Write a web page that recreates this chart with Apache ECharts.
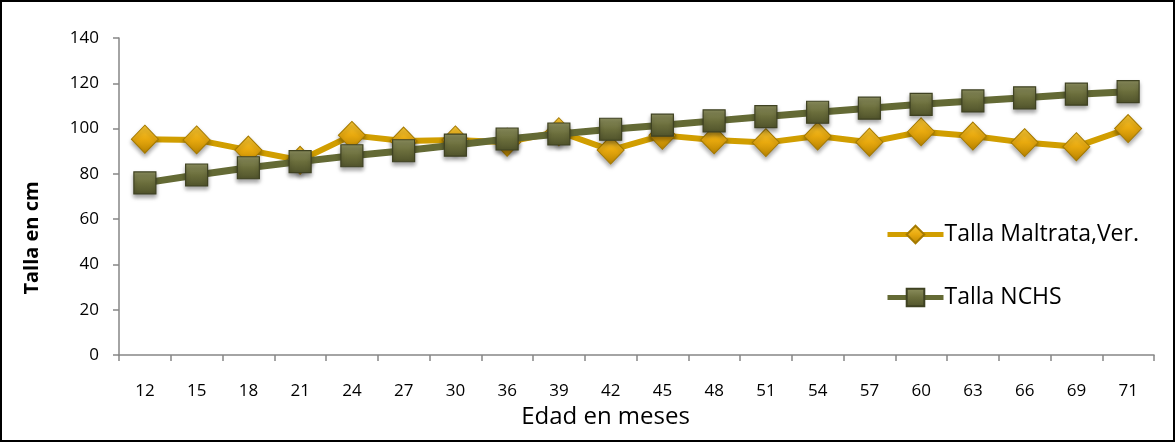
<!DOCTYPE html>
<html><head><meta charset="utf-8">
<script src="https://cdn.jsdelivr.net/npm/echarts@6/dist/echarts.min.js"></script>
<style>
html,body{margin:0;padding:0;background:#fff;}
#wrap{position:absolute;left:0;top:0;width:1171px;height:438px;border:2px solid #000;}
#c{width:1171px;height:438px;}
</style></head>
<body><div id="wrap"><div id="c"></div></div>
<script>
const categories = ['12','15','18','21','24','27','30','36','39','42','45','48','51','54','57','60','63','66','69','71'];
const maltrata = [95.3, 95, 90.5, 86, 97, 94.5, 95, 94, 98.6, 90.5, 97, 95, 93.8, 96.7, 94, 98.6, 96.7, 93.8, 92, 100];
const nchs = [76, 79.5, 82.7, 85.4, 88, 90.2, 92.7, 95.4, 97.6, 99.7, 101.5, 103.4, 105.3, 107.2, 109, 110.7, 112.2, 113.6, 115.2, 116.3];
const yTicks = {min: 0, max: 140, interval: 20};

const font = '"Open Sans", "Liberation Sans", sans-serif';
const chart = echarts.init(document.getElementById('c'));
const goldGrad = new echarts.graphic.LinearGradient(0,0,0,1,[{offset:0,color:'#F8C837'},{offset:0.5,color:'#E8A90E'},{offset:1,color:'#B88300'}]);
const oliveGrad = new echarts.graphic.LinearGradient(0,0,0,1,[{offset:0,color:'#8E9160'},{offset:0.5,color:'#6B6E3C'},{offset:1,color:'#50532B'}]);
chart.setOption({
  animation:false,
  grid:{left:117, right:19, top:36, bottom:85},
  legend:{
    orient:'vertical', left:878, top:216, itemGap:40, itemWidth:56, itemHeight:22,
    lineStyle:{width:5},
    textStyle:{fontFamily:font, fontSize:23, color:'#000', padding:[0,0,0,-4]},
    data:['Talla Maltrata,Ver.','Talla NCHS']
  },
  graphic:[{
    type:'text', x:30, y:236, rotation:Math.PI/2,
    style:{text:'Talla en cm', fontFamily:font, fontSize:20, fontWeight:'bold', fill:'#000', align:'center', verticalAlign:'middle'}
  }],
  xAxis:{
    type:'category', data:categories, boundaryGap:true,
    name:'Edad en meses', nameLocation:'middle', nameGap:46,
    nameTextStyle:{fontFamily:font, fontSize:24, color:'#000', padding:[0,62,0,0]},
    axisLine:{lineStyle:{color:'#868686', width:1.5}},
    axisTick:{show:true, length:6, interval:0, lineStyle:{color:'#868686', width:1.5}},
    axisLabel:{fontFamily:font, fontSize:17, color:'#000', margin:28, interval:0}
  },
  yAxis:{
    type:'value', min:yTicks.min, max:yTicks.max, interval:yTicks.interval,
    axisLine:{show:true, lineStyle:{color:'#868686', width:1.5}},
    axisTick:{show:true, length:6, lineStyle:{color:'#868686', width:1.5}},
    splitLine:{show:false},
    axisLabel:{fontFamily:font, fontSize:17, color:'#000', margin:20}
  },
  series:[
    {name:'Talla Maltrata,Ver.', type:'line', data:maltrata, symbol:'diamond', symbolSize:[27,28],
     lineStyle:{color:'#D19E00', width:6}, itemStyle:{color:goldGrad, borderColor:'#A57A00', borderWidth:1, shadowColor:'rgba(0,0,0,0.35)', shadowBlur:4, shadowOffsetY:3}, z:2},
    {name:'Talla NCHS', type:'line', data:nchs, symbol:'rect', symbolSize:22,
     lineStyle:{color:'#646A35', width:7}, itemStyle:{color:oliveGrad, borderColor:'#3F4222', borderWidth:1.2, shadowColor:'rgba(0,0,0,0.35)', shadowBlur:4, shadowOffsetY:3}, z:3}
  ]
});
</script></body></html>
